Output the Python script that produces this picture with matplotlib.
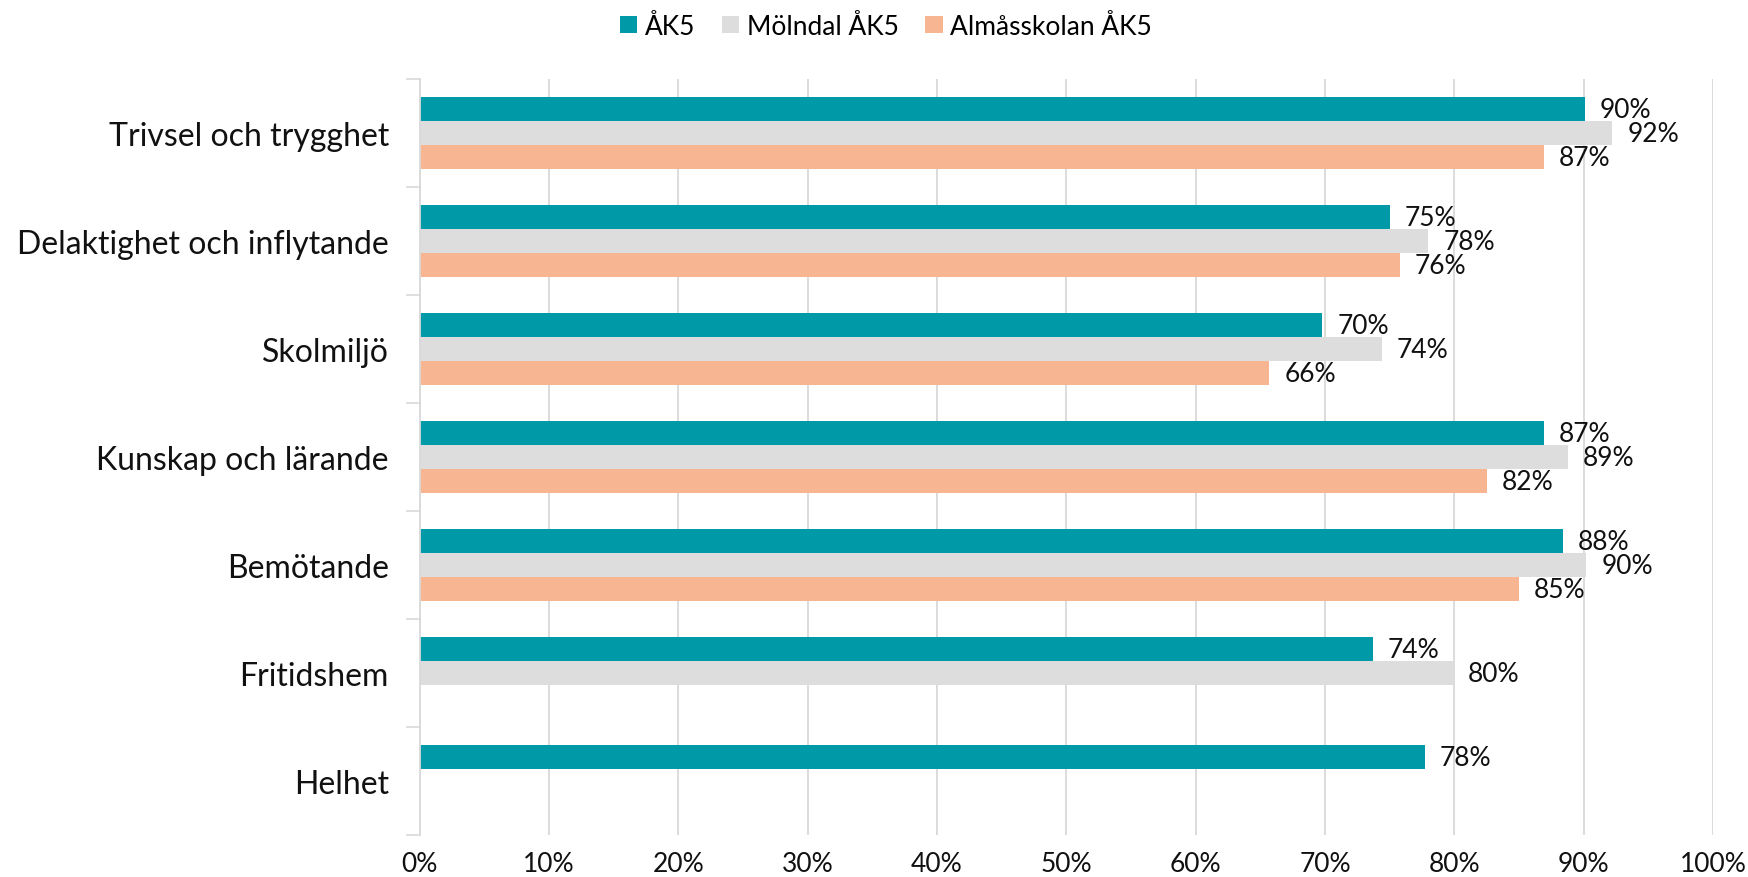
import matplotlib
matplotlib.use("Agg")
import matplotlib.pyplot as plt
from matplotlib.patches import Patch
import numpy as np

categories = ["Trivsel och trygghet", "Delaktighet och inflytande", "Skolmiljö",
              "Kunskap och lärande", "Bemötande", "Fritidshem", "Helhet"]
series_names = ["ÅK5", "Mölndal ÅK5", "Almåsskolan ÅK5"]
ak5 = [0.901, 0.750, 0.698, 0.869, 0.884, 0.737, 0.777]
molndal = [0.922, 0.780, 0.744, 0.888, 0.902, 0.799, None]
almas = [0.869, 0.758, 0.657, 0.825, 0.850, None, None]
colors = ["#0099A8", "#DDDDDD", "#F8B592"]
xticks = [0, 0.1, 0.2, 0.3, 0.4, 0.5, 0.6, 0.7, 0.8, 0.9, 1.0]

plt.rcParams['font.family'] = ['Lato', 'DejaVu Sans']

fig = plt.figure(figsize=(17.48, 8.78), dpi=100)
ax = fig.add_axes([0.24, 0.0482, 0.74, 0.861])

bh = 0.222
offsets = [-bh, 0, bh]
ypos = np.arange(len(categories))
for s, (vals, col, off) in enumerate(zip([ak5, molndal, almas], colors, offsets)):
    for i, v in enumerate(vals):
        if v is None:
            continue
        ax.barh(ypos[i] + off, v, height=bh, color=col, zorder=2)
        ax.annotate(f"{round(v*100)}%", xy=(v, ypos[i] + off), xytext=(15, -1),
                    textcoords='offset pixels', va='center', ha='left',
                    fontsize=19, color='#111111')

ax.set_ylim(len(categories) - 0.5, -0.5)
ax.set_xlim(0, 1.0)
ax.set_yticks(ypos)
ax.set_yticklabels(categories, fontsize=23)
ax.set_yticks(np.arange(-0.5, len(categories), 1.0), minor=True)
ax.tick_params(axis='y', which='major', length=0, pad=22, colors='#111111')
ax.tick_params(axis='y', which='minor', length=10, width=1.2, color='#D9D9D9')
ax.set_xticks(xticks)
ax.set_xticklabels([f"{int(round(t*100))}%" for t in xticks], fontsize=19)
ax.tick_params(axis='x', length=0, pad=12, colors='#111111')
ax.grid(axis='x', color='#D9D9D9', linewidth=1.3, zorder=0)
ax.set_axisbelow(True)
for sp in ['top', 'right', 'bottom']:
    ax.spines[sp].set_visible(False)
ax.spines['left'].set_color('#D9D9D9')
ax.spines['left'].set_linewidth(1.3)

handles = [Patch(facecolor=c, edgecolor='none') for c in colors]
fig.legend(handles, series_names, loc='center', bbox_to_anchor=(0.507, 0.969), ncol=3,
           frameon=False, fontsize=19, handlelength=0.65, handleheight=0.65,
           handletextpad=0.3, columnspacing=1.0)

fig.savefig("out.png", dpi=100)
